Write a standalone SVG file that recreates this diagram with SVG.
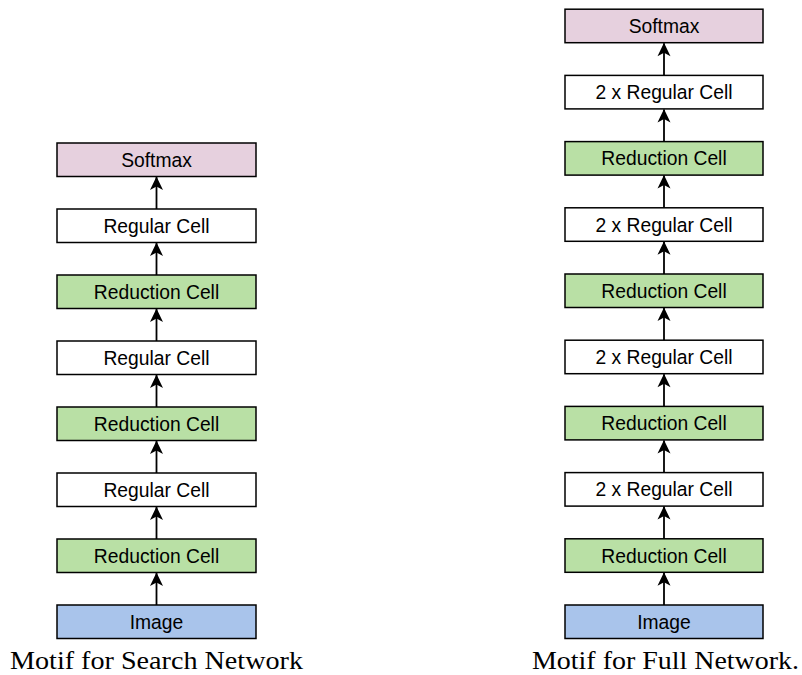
<svg xmlns="http://www.w3.org/2000/svg" width="802" height="675" viewBox="0 0 802 675">
<style>
.box{stroke:#000;stroke-width:1.5}
.soft{fill:#E6D0DE}
.red{fill:#B9E0A5}
.img{fill:#A9C4EB}
.reg{fill:#FFFFFF}
.lbl{font-family:"Liberation Sans",Arial,sans-serif;font-size:19.3px;fill:#000;text-anchor:middle}
.cap{font-family:"Liberation Serif","Times New Roman",serif;font-size:26px;fill:#000}
.conn{stroke:#000;stroke-width:1.8;fill:none;marker-end:url(#ah)}
</style>
<defs>
<marker id="ah" markerUnits="userSpaceOnUse" markerWidth="16" markerHeight="16" viewBox="-1 -8 16 16" refX="13" refY="0" orient="auto">
<path d="M0,-6.5 L13.5,0 L0,6.5 L3.5,0 Z" fill="#000"/>
</marker>
</defs>
<rect width="802" height="675" fill="#fff"/>
<g id="left-softmax"><rect class="box soft" x="57" y="143" width="199" height="33.5"/><text class="lbl" x="156.5" y="166.7">Softmax</text></g>
<g id="left-regular-3"><rect class="box reg" x="57" y="209" width="199" height="33.5"/><text class="lbl" x="156.5" y="232.7">Regular Cell</text></g>
<g id="left-reduction-3"><rect class="box red" x="57" y="275" width="199" height="33.5"/><text class="lbl" x="156.5" y="298.7">Reduction Cell</text></g>
<g id="left-regular-2"><rect class="box reg" x="57" y="341" width="199" height="33.5"/><text class="lbl" x="156.5" y="364.7">Regular Cell</text></g>
<g id="left-reduction-2"><rect class="box red" x="57" y="407" width="199" height="33.5"/><text class="lbl" x="156.5" y="430.7">Reduction Cell</text></g>
<g id="left-regular-1"><rect class="box reg" x="57" y="473" width="199" height="33.5"/><text class="lbl" x="156.5" y="496.7">Regular Cell</text></g>
<g id="left-reduction-1"><rect class="box red" x="57" y="539" width="199" height="33.5"/><text class="lbl" x="156.5" y="562.7">Reduction Cell</text></g>
<g id="left-image"><rect class="box img" x="57" y="605" width="199" height="33.5"/><text class="lbl" x="156.5" y="628.7">Image</text></g>

<g id="right-softmax"><rect class="box soft" x="565" y="9.2" width="198" height="33.5"/><text class="lbl" x="664" y="32.9">Softmax</text></g>
<g id="right-regular-4"><rect class="box reg" x="565" y="75.4" width="198" height="33.5"/><text class="lbl" x="664" y="99.1">2 x Regular Cell</text></g>
<g id="right-reduction-4"><rect class="box red" x="565" y="141.6" width="198" height="33.5"/><text class="lbl" x="664" y="165.3">Reduction Cell</text></g>
<g id="right-regular-3"><rect class="box reg" x="565" y="207.8" width="198" height="33.5"/><text class="lbl" x="664" y="231.5">2 x Regular Cell</text></g>
<g id="right-reduction-3"><rect class="box red" x="565" y="274" width="198" height="33.5"/><text class="lbl" x="664" y="297.7">Reduction Cell</text></g>
<g id="right-regular-2"><rect class="box reg" x="565" y="340.2" width="198" height="33.5"/><text class="lbl" x="664" y="363.9">2 x Regular Cell</text></g>
<g id="right-reduction-2"><rect class="box red" x="565" y="406.4" width="198" height="33.5"/><text class="lbl" x="664" y="430.1">Reduction Cell</text></g>
<g id="right-regular-1"><rect class="box reg" x="565" y="472.6" width="198" height="33.5"/><text class="lbl" x="664" y="496.3">2 x Regular Cell</text></g>
<g id="right-reduction-1"><rect class="box red" x="565" y="538.8" width="198" height="33.5"/><text class="lbl" x="664" y="562.5">Reduction Cell</text></g>
<g id="right-image"><rect class="box img" x="565" y="605" width="198" height="33.5"/><text class="lbl" x="664" y="628.7">Image</text></g>

<g id="connectors">
<line class="conn" x1="156.5" y1="209" x2="156.5" y2="177"/>
<line class="conn" x1="156.5" y1="275" x2="156.5" y2="243"/>
<line class="conn" x1="156.5" y1="341" x2="156.5" y2="309"/>
<line class="conn" x1="156.5" y1="407" x2="156.5" y2="375"/>
<line class="conn" x1="156.5" y1="473" x2="156.5" y2="441"/>
<line class="conn" x1="156.5" y1="539" x2="156.5" y2="507"/>
<line class="conn" x1="156.5" y1="605" x2="156.5" y2="573"/>
<line class="conn" x1="664" y1="75.4" x2="664" y2="43.2"/>
<line class="conn" x1="664" y1="141.6" x2="664" y2="109.4"/>
<line class="conn" x1="664" y1="207.8" x2="664" y2="175.6"/>
<line class="conn" x1="664" y1="274" x2="664" y2="241.8"/>
<line class="conn" x1="664" y1="340.2" x2="664" y2="308"/>
<line class="conn" x1="664" y1="406.4" x2="664" y2="374.2"/>
<line class="conn" x1="664" y1="472.6" x2="664" y2="440.4"/>
<line class="conn" x1="664" y1="538.8" x2="664" y2="506.6"/>
<line class="conn" x1="664" y1="605" x2="664" y2="572.8"/>
</g>
<text class="cap" x="10" y="669" textLength="293" lengthAdjust="spacingAndGlyphs">Motif for Search Network</text>
<text class="cap" x="532" y="669" textLength="267" lengthAdjust="spacingAndGlyphs">Motif for Full Network.</text>
</svg>
